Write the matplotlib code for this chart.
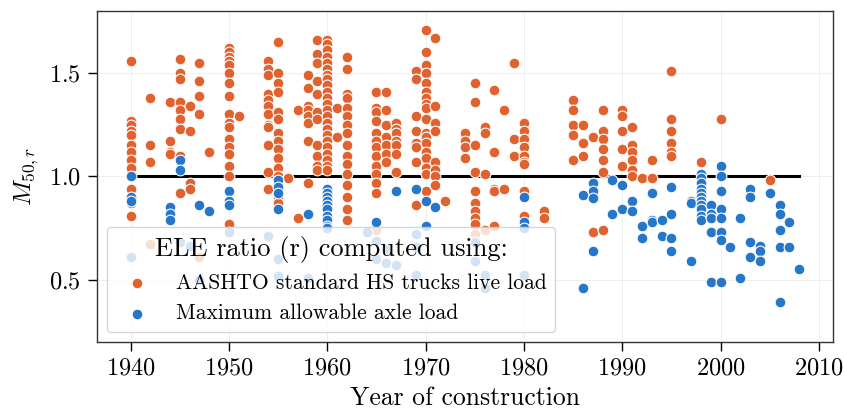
import matplotlib
matplotlib.use('Agg')
import matplotlib.pyplot as plt
import numpy as np

plt.rcParams['font.family'] = 'serif'
plt.rcParams['font.serif'] = ['cmr10']
plt.rcParams['mathtext.fontset'] = 'cm'
plt.rcParams['axes.formatter.use_mathtext'] = True

# AASHTO standard HS trucks live load (orange)
hs_year = ([1940]*12 + [1942]*4 + [1944]*4 + [1945]*9 + [1946]*4 + [1947]*5 + [1948]
           + [1950]*17 + [1951] + [1954]*12 + [1955]*14 + [1956] + [1957]*2 + [1958]*8
           + [1959]*11 + [1960]*23 + [1961]*2 + [1962]*16 + [1965]*13 + [1966]*7
           + [1967]*7 + [1969]*8 + [1970]*18 + [1971]*8 + [1972] + [1974]*4 + [1975]*10
           + [1976]*4 + [1977]*5 + [1978]*2 + [1979]*3 + [1980]*9 + [1982]*2 + [1985]*5
           + [1986]*3 + [1987]*2 + [1988]*7 + [1990]*5 + [1991]*6 + [1992] + [1993]*2
           + [1995]*6 + [1998] + [2000] + [2005])
hs_ratio = [1.56, 1.27, 1.25, 1.22, 1.20, 1.15, 1.12, 1.08, 1.04, 0.94, 0.87, 0.81,
            1.38, 1.15, 1.07, 0.67,
            1.36, 1.17, 1.12, 1.11,
            1.57, 1.50, 1.47, 1.36, 1.32, 1.28, 1.23, 1.10, 0.92,
            1.34, 1.22, 0.97, 0.94,
            1.55, 1.46, 1.39, 1.30, 0.61,
            1.12,
            1.62, 1.60, 1.58, 1.56, 1.54, 1.50, 1.45, 1.39, 1.30, 1.26, 1.24, 1.18, 1.14, 1.11, 1.05, 1.00, 0.77,
            1.29,
            1.56, 1.52, 1.49, 1.40, 1.37, 1.34, 1.30, 1.25, 1.24, 1.15, 1.02, 0.94,
            1.65, 1.50, 1.45, 1.41, 1.31, 1.28, 1.21, 1.17, 1.13, 1.09, 1.04, 1.00, 0.90, 0.87,
            0.99,
            1.32, 0.80,
            1.49, 1.43, 1.34, 1.32, 1.29, 1.26, 1.17, 0.97,
            1.66, 1.59, 1.55, 1.46, 1.40, 1.31, 1.28, 1.15, 1.10, 1.05, 1.03,
            1.66, 1.64, 1.61, 1.58, 1.55, 1.52, 1.49, 1.47, 1.44, 1.41, 1.38, 1.35, 1.32, 1.29,
            1.26, 1.23, 1.20, 1.17, 1.14, 1.11, 1.08, 1.05, 1.03,
            1.33, 1.19,
            1.58, 1.52, 1.40, 1.38, 1.33, 1.29, 1.25, 1.21, 1.15, 1.10, 1.06, 1.01, 0.96, 0.90, 0.84, 0.79,
            1.41, 1.33, 1.31, 1.27, 1.21, 1.17, 1.14, 1.10, 1.05, 1.01, 0.97, 0.92, 0.74,
            1.41, 1.32, 1.25, 1.19, 1.15, 1.11, 1.07,
            1.26, 1.23, 1.21, 1.17, 1.15, 1.11, 1.02,
            1.51, 1.47, 1.29, 1.22, 1.16, 1.14, 1.07, 0.86,
            1.71, 1.60, 1.54, 1.50, 1.45, 1.41, 1.38, 1.35, 1.33, 1.28, 1.21, 1.19, 1.16, 1.12,
            1.09, 1.04, 1.01, 0.93,
            1.67, 1.34, 1.26, 1.22, 1.07, 1.03, 1.00, 0.96,
            0.88,
            1.21, 1.17, 1.14, 1.09,
            1.45, 1.36, 1.15, 1.02, 0.93, 0.87, 0.83, 0.80, 0.77, 0.72,
            1.24, 1.21, 1.01, 0.74,
            1.42, 1.12, 0.94, 0.93, 0.76,
            1.32, 0.94,
            1.55, 1.18, 1.10,
            1.26, 1.22, 1.18, 1.14, 1.10, 1.07, 1.06, 0.93, 0.81,
            0.83, 0.80,
            1.37, 1.32, 1.25, 1.20, 1.08,
            1.25, 1.16, 1.10,
            1.19, 0.73,
            1.32, 1.22, 1.18, 1.13, 1.08, 1.02, 0.74,
            1.32, 1.29, 1.22, 1.13, 1.05,
            1.24, 1.15, 1.12, 1.08, 1.03, 1.00,
            0.99,
            1.08, 0.99,
            1.51, 1.28, 1.22, 1.16, 1.12, 1.10,
            1.07,
            1.28,
            0.98]

# Maximum allowable axle load (blue)
axle_year = ([1940]*4 + [1944]*3 + [1945]*3 + [1946] + [1947]*2 + [1948] + [1950]*4
             + [1954] + [1955]*6 + [1958]*2 + [1960]*10 + [1964] + [1965]*3 + [1966]*2
             + [1967]*2 + [1969]*4 + [1970]*2 + [1971] + [1975]*2 + [1976]*2 + [1980]*4
             + [1986]*2 + [1987]*4 + [1989]*2 + [1990]*2 + [1991]*2 + [1992]*2 + [1993]*3
             + [1994]*2 + [1995]*4 + [1997]*3 + [1998]*11 + [1999]*5 + [2000]*8 + [2001]
             + [2002]*2 + [2003]*4 + [2004]*3 + [2005] + [2006]*5 + [2007]*2 + [2008])
axle_ratio = [1.00, 0.90, 0.88, 0.61,
              0.85, 0.82, 0.79,
              1.08, 1.03, 0.68,
              0.665,
              0.86, 0.50,
              0.83,
              0.93, 0.88, 0.86, 0.73,
              0.71,
              0.98, 0.95, 0.92, 0.84, 0.60, 0.515,
              0.82, 0.51,
              0.94, 0.92, 0.90, 0.88, 0.86, 0.84, 0.81, 0.79, 0.76, 0.75,
              0.73,
              0.78, 0.685, 0.60,
              0.65, 0.58,
              0.93, 0.57,
              0.94, 0.72, 0.66, 0.52,
              0.88, 0.76,
              0.85,
              0.68, 0.59,
              0.52, 0.46,
              0.90, 0.78, 0.75, 0.52,
              0.91, 0.46,
              0.97, 0.93, 0.895, 0.64,
              0.98, 0.82,
              0.96, 0.84,
              0.88, 0.83,
              0.76, 0.70,
              0.92, 0.79, 0.78,
              0.79, 0.71,
              0.95, 0.82, 0.70, 0.64,
              0.88, 0.87, 0.59,
              1.01, 0.99, 0.97, 0.94, 0.92, 0.90, 0.88, 0.86, 0.84, 0.81, 0.79,
              0.86, 0.82, 0.80, 0.73, 0.49,
              1.05, 1.00, 0.93, 0.84, 0.80, 0.73, 0.69, 0.49,
              0.66,
              0.80, 0.51,
              0.94, 0.90, 0.68, 0.61,
              0.665, 0.64, 0.59,
              0.92,
              0.86, 0.82, 0.74, 0.66, 0.39,
              0.78, 0.66,
              0.55]

orange = '#e0622f'
blue = '#2677c9'

fig = plt.figure(figsize=(8.45, 4.12), dpi=100)
ax = fig.add_axes([0.115, 0.171, 0.8705, 0.802])

# reference line at ratio 1
ax.plot([1940, 2008], [1.0, 1.0], color='black', lw=2.2, zorder=1)

ax.scatter(hs_year, hs_ratio, s=60, color=orange, edgecolors='white', linewidths=0.8,
           zorder=2, label='AASHTO standard HS trucks live load')
ax.scatter(axle_year, axle_ratio, s=60, color=blue, edgecolors='white', linewidths=0.8,
           zorder=2, label='Maximum allowable axle load')

ax.set_xlim(1936.6, 2011.4)
ax.set_ylim(0.2, 1.8)
ax.set_xticks(np.arange(1940, 2011, 10))
ax.set_yticks([0.5, 1.0, 1.5])
ax.grid(color='#ececec', lw=0.6)
ax.set_axisbelow(True)
ax.tick_params(labelsize=17.5, length=6.5, width=1, pad=5, direction='out')
for sp in ax.spines.values():
    sp.set_color('#333333')
    sp.set_linewidth(1)

ax.set_xlabel('Year of construction', fontsize=18.5, labelpad=5)
ax.set_ylabel(r'$M_{50,r}$', fontsize=18, labelpad=6)

leg = ax.legend(loc='lower left', title='ELE ratio (r) computed using:', fontsize=15.5,
                title_fontsize=19, framealpha=0.8, borderaxespad=0.45)
leg.get_frame().set_edgecolor('#cccccc')

fig.savefig('out.png', dpi=100)
